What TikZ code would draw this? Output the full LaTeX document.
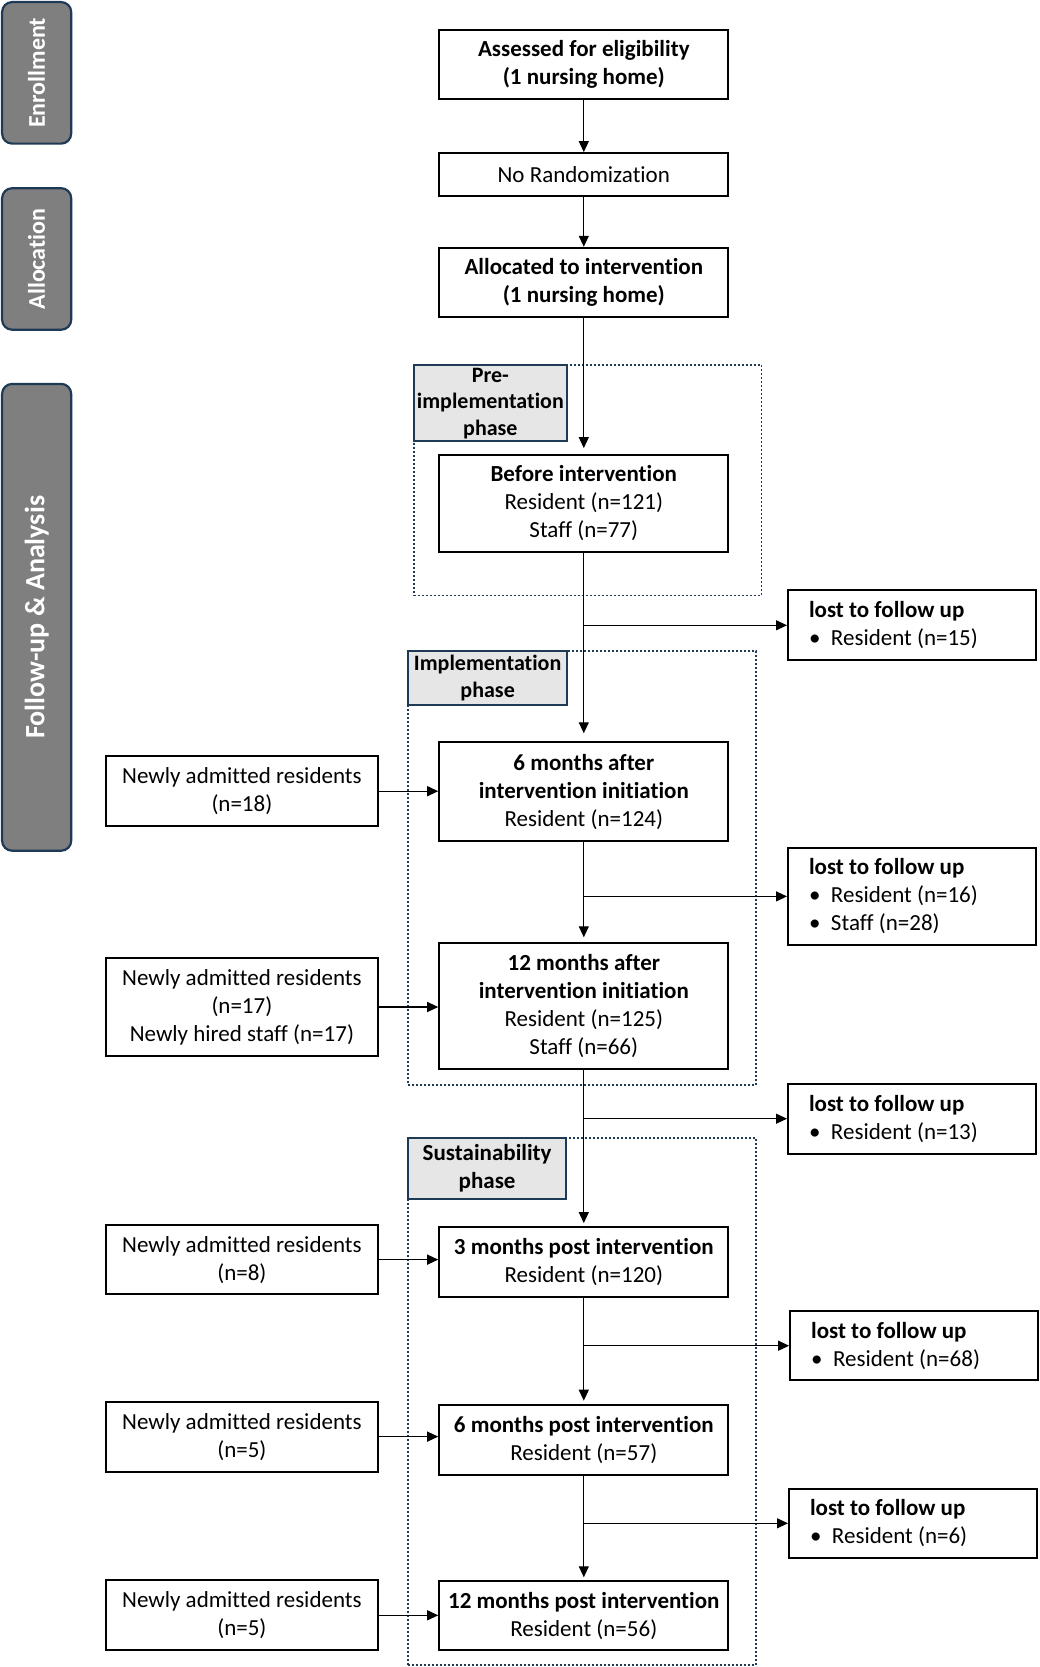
\documentclass[tikz,border=0pt]{standalone}
\usepackage{fontspec}
\setmainfont{Carlito}[Ligatures={NoCommon}]
\usetikzlibrary{arrows.meta}
\definecolor{barfill}{HTML}{7F7F7F}
\definecolor{navy}{HTML}{1F3A56}
\definecolor{tagfill}{HTML}{E7E6E6}
\newcommand{\bul}{\makebox[22pt][l]{\textbullet}}

\begin{document}
\begin{tikzpicture}[x=1pt,y=-1pt,
        >={Triangle[width=10pt,length=11pt]},
        every node/.style={font=\fontsize{23}{28}\selectfont},
        sidebar/.style={draw=navy,line width=2.2pt,fill=barfill,rounded corners=10pt,rotate=90,
            text=white,minimum height=69.1pt,font=\fontsize{24}{28}\selectfont\bfseries},
        mainbox/.style={draw,line width=2pt,minimum width=289.2pt,align=center,inner sep=2pt},
        newbox/.style={draw,line width=2pt,minimum width=271.2pt,align=center,inner sep=2pt},
        lostbox/.style={draw,line width=2pt,text width=205.8pt,inner xsep=21pt,inner ysep=2pt,align=flush left},
        phase/.style={draw=navy,line width=1.8pt,dash pattern=on 2pt off 2pt},
        phasetag/.style={draw=navy,line width=2pt,fill=tagfill,anchor=north west,align=center,
            inner sep=1pt,font=\fontsize{22}{26.5}\selectfont\bfseries},
        flow/.style={->,line width=1.2pt}]
    \useasboundingbox (0,0) rectangle (1040,1667);

    % side bars
    \node[sidebar,minimum width=141.5pt] (enrol) at (36.65,72.85) {Enrollment};
    \node[sidebar,minimum width=141.5pt] (allocbar) at (36.65,258.95) {Allocation};
    \node[sidebar,minimum width=466.8pt,font=\fontsize{28}{32}\selectfont\bfseries] (followbar) at (36.65,617.3) {Follow-up \& Analysis};

    % phases
    \node[phase,minimum width=347.7pt,minimum height=230.8pt] (preframe) at (587.55,480.1) {};
    \node[phase,minimum width=347.8pt,minimum height=433.9pt] (impframe) at (582.2,867.75) {};
    \node[phase,minimum width=347.8pt,minimum height=527.5pt] (susframe) at (582.2,1401.55) {};
    \node[phasetag,minimum width=153.1pt,minimum height=76.6pt] (pretag) at (preframe.north west) {Pre-\\implementation\\phase};
    \node[phasetag,minimum width=158.5pt,minimum height=54.2pt] (imptag) at (impframe.north west) {Implementation\\phase};
    \node[phasetag,minimum width=157.4pt,minimum height=60.6pt,font=\fontsize{23}{27.5}\selectfont\bfseries] (sustag) at (susframe.north west) {Sustainability\\phase};

    % main column
    \node[mainbox,minimum height=69.1pt] (assess) at (583.8,64.3) {\textbf{Assessed for eligibility}\\\textbf{(1 nursing home)}};
    \node[mainbox,minimum height=42.6pt] (norand) at (583.8,174.4) {No Randomization};
    \node[mainbox,minimum height=69.1pt] (alloc) at (583.8,282.3) {\textbf{Allocated to intervention}\\\textbf{(1 nursing home)}};
    \node[mainbox,minimum height=96.8pt] (before) at (583.8,503.5) {\textbf{Before intervention}\\Resident (n=121)\\Staff (n=77)};
    \node[mainbox,minimum height=98.9pt] (mon6) at (583.8,791.7) {\textbf{6 months after}\\\textbf{intervention initiation}\\Resident (n=124)};
    \node[mainbox,minimum height=125.5pt] (mon12) at (583.8,1006) {\textbf{12 months after}\\\textbf{intervention initiation}\\Resident (n=125)\\Staff (n=66)};
    \node[mainbox,minimum height=70.2pt] (post3) at (583.8,1262.2) {\textbf{3 months post intervention}\\Resident (n=120)};
    \node[mainbox,minimum height=70.2pt] (post6) at (583.8,1439.8) {\textbf{6 months post intervention}\\Resident (n=57)};
    \node[mainbox,minimum height=69.1pt] (post12) at (583.8,1615.8) {\textbf{12 months post intervention}\\Resident (n=56)};

    % newcomers
    \node[newbox,minimum height=70.2pt] (new1) at (241.9,791.2) {Newly admitted residents\\(n=18)};
    \node[newbox,minimum height=97.9pt] (new2) at (241.9,1007) {Newly admitted residents\\(n=17)\\Newly hired staff (n=17)};
    \node[newbox,minimum height=69.2pt] (new3) at (241.9,1259.6) {Newly admitted residents\\(n=8)};
    \node[newbox,minimum height=70.2pt] (new4) at (241.9,1436.6) {Newly admitted residents\\(n=5)};
    \node[newbox,minimum height=70.2pt] (new5) at (241.9,1615.3) {Newly admitted residents\\(n=5)};

    % losses
    \node[lostbox,minimum height=70.2pt] (lost1) at (911.9,625.3) {\textbf{lost to follow up}\\\bul Resident (n=15)};
    \node[lostbox,minimum height=97.8pt] (lost2) at (911.9,896.4) {\textbf{lost to follow up}\\\bul Resident (n=16)\\\bul Staff (n=28)};
    \node[lostbox,minimum height=70.2pt] (lost3) at (911.9,1118.7) {\textbf{lost to follow up}\\\bul Resident (n=13)};
    \node[lostbox,minimum height=69.1pt] (lost4) at (914,1345.7) {\textbf{lost to follow up}\\\bul Resident (n=68)};
    \node[lostbox,minimum height=69.1pt] (lost5) at (912.9,1523.3) {\textbf{lost to follow up}\\\bul Resident (n=6)};

    % arrows down
    \draw[flow] (assess) -- (norand);
    \draw[flow] (norand) -- (alloc);
    \draw[flow,shorten >=6pt] (alloc) -- (before);
    \draw[flow,shorten >=8pt] (before) -- (mon6);
    \draw[flow,shorten >=5pt] (mon6) -- (mon12);
    \draw[flow,shorten >=3pt] (mon12) -- (post3);
    \draw[flow,shorten >=3pt] (post3) -- (post6);
    \draw[flow,shorten >=3pt] (post6) -- (post12);

    % arrows in
    \foreach \n/\m in {new1/mon6,new2/mon12,new3/post3,new4/post6,new5/post12}{
        \draw[flow] (\n.east) -- (\n.east -| \m.west);
    }

    % arrows out
    \foreach \l in {lost1,lost2,lost3,lost4,lost5}{
        \draw[flow] (before.south |- \l.west) -- (\l.west);
    }
\end{tikzpicture}
\end{document}
